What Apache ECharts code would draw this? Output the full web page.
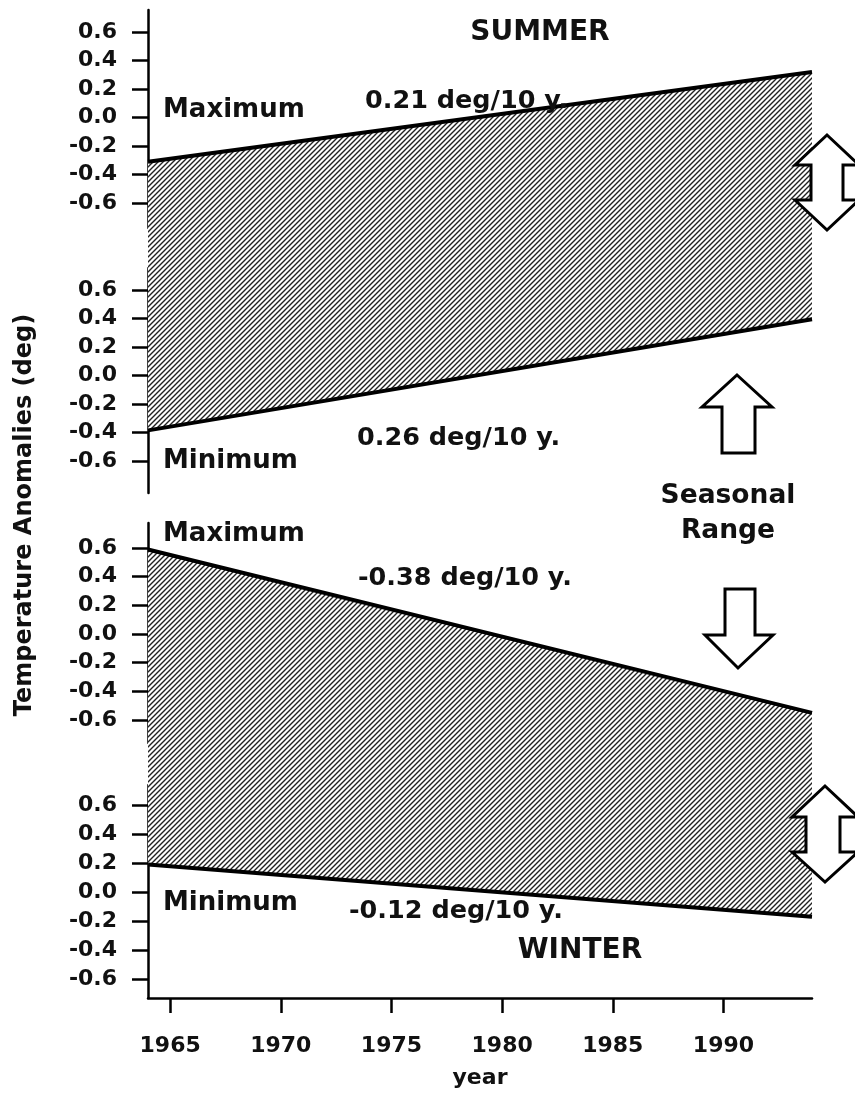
<!DOCTYPE html>
<html><head><meta charset="utf-8">
<script src="https://cdn.jsdelivr.net/npm/echarts@6/dist/echarts.min.js"></script>
<style>html,body{margin:0;padding:0;background:#fff}#c{width:855px;height:1095px}</style>
</head><body><div id="c"></div><script>
// ---- data ----
const years = [1964, 1994];
const summerMax = [-0.31, 0.32];
const summerMin = [-0.385, 0.395];
const winterMax = [0.59, -0.55];
const winterMin = [0.19, -0.17];
const yTicks = [-0.6, -0.4, -0.2, 0, 0.2, 0.4, 0.6];
const xTicks = [1965, 1970, 1975, 1980, 1985, 1990];
const xRange = [1964, 1994];
const trendLabels = ['0.21 deg/10 y.', '0.26 deg/10 y.', '-0.38 deg/10 y.', '-0.12 deg/10 y.'];

// ---- layout ----
const FONT = '"DejaVu Sans", Verdana, sans-serif';
const LEFT = 148, RIGHT = 855 - 812;
// panel: pixel of +0.6, pixel of -0.6, axis top, axis bottom
const panels = [
  {p: 32, n: 203, top: 10, bottom: 228},
  {p: 290, n: 461, top: 268, bottom: 493},
  {p: 548, n: 720, top: 523, bottom: 743},
  {p: 805, n: 979, top: 785, bottom: 998}
];
panels.forEach(P => { P.ppu = (P.n - P.p) / 1.2; P.val = y => 0.6 - (y - P.p) / P.ppu; });
const gapMid = [248, 764];
const dataBoxes = [
  {P: panels[0], top: panels[0].top, bottom: gapMid[0]},
  {P: panels[1], top: gapMid[0], bottom: panels[1].bottom},
  {P: panels[2], top: panels[2].top, bottom: gapMid[1]},
  {P: panels[3], top: gapMid[1], bottom: panels[3].bottom}
];

function hatch() {
  const s = 5, c = document.createElement('canvas');
  c.width = s; c.height = s;
  const g = c.getContext('2d');
  g.fillStyle = '#fff'; g.fillRect(0, 0, s, s);
  g.strokeStyle = '#222'; g.lineWidth = 1.4; g.lineCap = 'square';
  g.beginPath();
  g.moveTo(-1, s + 1); g.lineTo(s + 1, -1);
  g.moveTo(-1, 1); g.lineTo(1, -1);
  g.moveTo(s - 1, s + 1); g.lineTo(s + 1, s - 1);
  g.stroke();
  return c;
}
const pattern = {image: hatch(), repeat: 'repeat'};

const grids = [], xAxes = [], yAxes = [];
panels.forEach((P, i) => {
  grids.push({left: LEFT, right: RIGHT, top: P.top, height: P.bottom - P.top});
  const last = i === 3;
  xAxes.push({
    gridIndex: i, type: 'value', min: xRange[0], max: xRange[1], show: last,
    splitLine: {show: false},
    axisLine: {show: last, onZero: false, lineStyle: {color: '#000', width: 2.5}},
    axisTick: {show: last, customValues: xTicks, length: 15, lineStyle: {color: '#000', width: 2.5}},
    axisLabel: {show: last, customValues: xTicks, margin: 37, color: '#111',
      fontFamily: FONT, fontWeight: 'bold', fontSize: 22, formatter: v => String(v)}
  });
  yAxes.push({
    gridIndex: i, type: 'value', min: P.val(P.bottom), max: P.val(P.top),
    splitLine: {show: false},
    axisLine: {show: true, lineStyle: {color: '#000', width: 2.5}},
    axisTick: {show: true, customValues: yTicks, length: 16, lineStyle: {color: '#000', width: 2.5}},
    axisLabel: {customValues: yTicks, margin: 31, color: '#111', fontFamily: FONT,
      fontWeight: 'bold', fontSize: 22, formatter: v => v.toFixed(1)}
  });
});
dataBoxes.forEach((B, k) => {
  const gi = 4 + k;
  grids.push({left: LEFT, right: RIGHT, top: B.top, height: B.bottom - B.top});
  xAxes.push({gridIndex: gi, type: 'value', min: xRange[0], max: xRange[1], show: false});
  yAxes.push({gridIndex: gi, type: 'value', min: B.P.val(B.bottom), max: B.P.val(B.top), show: false});
});

const seriesData = [summerMax, summerMin, winterMax, winterMin];
const origins = ['start', 'end', 'start', 'end'];
const series = seriesData.map((vals, k) => ({
  type: 'line', xAxisIndex: 4 + k, yAxisIndex: 4 + k,
  data: years.map((y, j) => [y, vals[j]]),
  showSymbol: false, symbol: 'none', silent: true,
  lineStyle: {color: '#000', width: 4},
  areaStyle: {color: pattern, opacity: 1, origin: origins[k]},
  z: 2
}));

const txt = (text, x, y, align, size, extra) => Object.assign({
  type: 'text', x, y, z: 50,
  style: {text, fill: '#111', font: 'bold ' + size + 'px ' + FONT, align, verticalAlign: 'middle'}
}, extra || {});
const arrow = pts => ({type: 'polygon', z: 40, shape: {points: pts},
  style: {fill: '#fff', stroke: '#000', lineWidth: 3, lineJoin: 'miter'}});

const graphic = [
  txt('SUMMER', 540, 33, 'center', 28),
  txt('Maximum', 163, 110, 'left', 26),
  txt(trendLabels[0], 365, 101, 'left', 25.5),
  txt(trendLabels[1], 357, 438, 'left', 25.5),
  txt('Minimum', 163, 461, 'left', 26),
  txt('Maximum', 163, 534, 'left', 26),
  txt(trendLabels[2], 358, 578, 'left', 25.5),
  txt('Minimum', 163, 903, 'left', 26),
  txt(trendLabels[3], 349, 911, 'left', 25.5),
  txt('WINTER', 580, 951, 'center', 28),
  txt('Seasonal', 728, 496, 'center', 26.5),
  txt('Range', 728, 531, 'center', 26.5),
  txt('year', 480, 1078, 'center', 22),
  txt('Temperature Anomalies (deg)', 25, 515, 'center', 24, {rotation: Math.PI / 2}),
  arrow([[737,375],[772,407],[755,407],[755,453],[722,453],[722,407],[702,407]]),
  arrow([[725,589],[755,589],[755,635],[773,635],[738,668],[705,635],[725,635]]),
  arrow([[827,135],[859,165],[843,165],[843,200],[859,200],[827,230],[795,200],[811,200],[811,165],[795,165]]),
  arrow([[825,786],[858,817],[840,817],[840,852],[858,852],[825,882],[792,852],[806,852],[806,817],[792,817]])
];

const chart = echarts.init(document.getElementById('c'), null, {renderer: 'canvas'});
chart.setOption({
  backgroundColor: '#fff', animation: false,
  grid: grids, xAxis: xAxes, yAxis: yAxes, series, graphic
});
</script></body></html>
